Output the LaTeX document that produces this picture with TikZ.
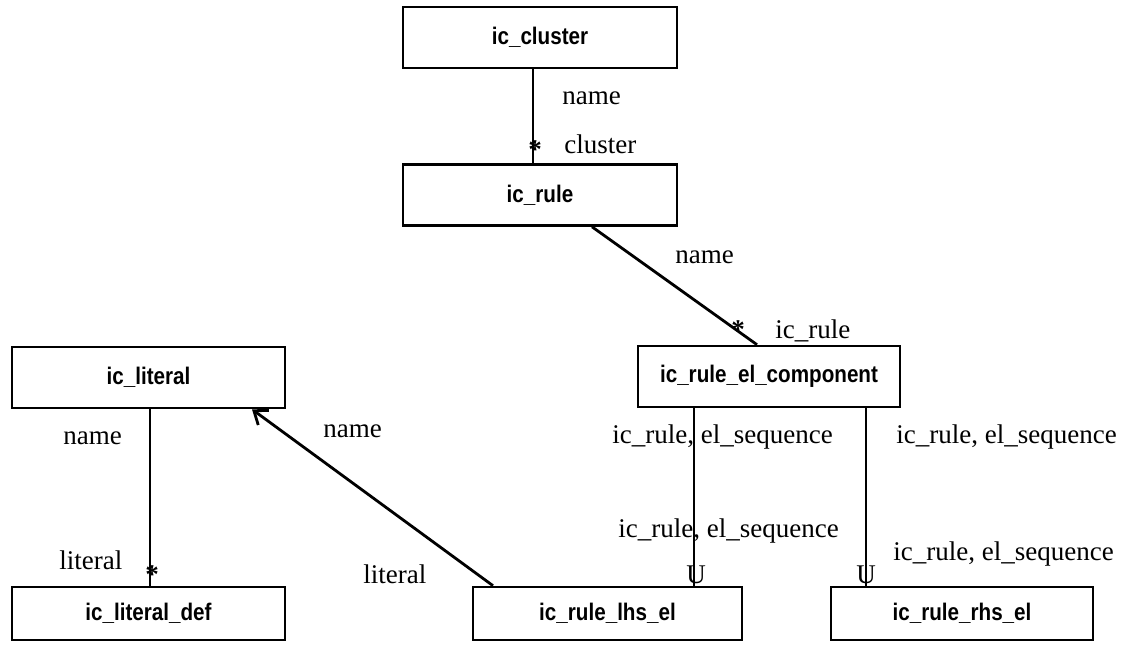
\documentclass[tikz,border=0pt]{standalone}
\usepackage{fontspec}
\setmainfont{Liberation Serif}
\newfontfamily\boxfont[FakeStretch=0.86]{Liberation Sans}
\usetikzlibrary{arrows.meta}

\begin{document}
\begin{tikzpicture}[x=0.5pt, y=-0.5pt, >={Straight Barb[length=6pt,width=9pt]},
  ent/.style={draw, line width=1.3pt, minimum width=137pt, minimum height=30.5pt, inner sep=0pt,
    font=\boxfont\bfseries\fontsize{12}{14}\selectfont},
  lbl/.style={anchor=base west, inner sep=0pt, font=\fontsize{13.5}{16}\selectfont},
  card/.style={inner sep=0pt, font=\fontsize{13.5}{16}\selectfont},
  lnk/.style={line width=1.4pt}]
\useasboundingbox (0,0) rectangle (1145,644);
\node[ent] (cluster) at (540,37.5) {ic\_cluster};
\node[ent] (rule) at (540,195) {ic\_rule};
\node[ent, minimum width=131pt] (comp) at (769,376.5) {ic\_rule\_el\_component};
\node[ent, minimum width=136.5pt] (literal) at (148.5,377.5) {ic\_literal};
\node[ent, minimum width=136.5pt, minimum height=26.5pt] (litdef) at (148.5,613.5) {ic\_literal\_def};
\node[ent, minimum width=134.5pt, minimum height=26.5pt] (lhs) at (607.5,613.5) {ic\_rule\_lhs\_el};
\node[ent, minimum width=131pt, minimum height=26.5pt] (rhs) at (962,613.5) {ic\_rule\_rhs\_el};
\coordinate (xa) at (533,0); \coordinate (xb) at (694,0);
\coordinate (xc) at (866,0); \coordinate (xd) at (150,0);
\coordinate (ra) at (592,0); \coordinate (ca) at (757,0);
\coordinate (la) at (493,0); \coordinate (lb) at (252,0);
\draw[lnk] (cluster.south -| xa) -- (rule.north -| xa);
\draw[lnk] (rule.south -| ra) -- (comp.north -| ca);
\draw[lnk] (comp.south -| xb) -- (lhs.north -| xb);
\draw[lnk] (comp.south -| xc) -- (rhs.north -| xc);
\draw[lnk] (literal.south -| xd) -- (litdef.north -| xd);
\draw[lnk,->] (lhs.north -| la) -- (literal.south -| lb);
\foreach \p/\q in {535/150, 738/330, 152/575}
  {\node[card] (star-\p) at (\p,\q) {\bfseries *};}
\node[card, anchor=base west] (u-lhs) at (686,583) {U};
\node[card, anchor=base west] (u-rhs) at (856,583) {U};
\node[lbl] at (562,104) {name};
\node[lbl] at (564,153) {cluster};
\node[lbl] at (675,263) {name};
\node[lbl] at (775,338) {ic\_rule};
\node[lbl] at (612,443) {ic\_rule, el\_sequence};
\node[lbl] at (896,443) {ic\_rule, el\_sequence};
\node[lbl] at (618,537) {ic\_rule, el\_sequence};
\node[lbl] at (893,560) {ic\_rule, el\_sequence};
\node[lbl] at (63,444) {name};
\node[lbl] at (59,569) {literal};
\node[lbl] at (323,437) {name};
\node[lbl] at (363,583) {literal};
\end{tikzpicture}
\end{document}
